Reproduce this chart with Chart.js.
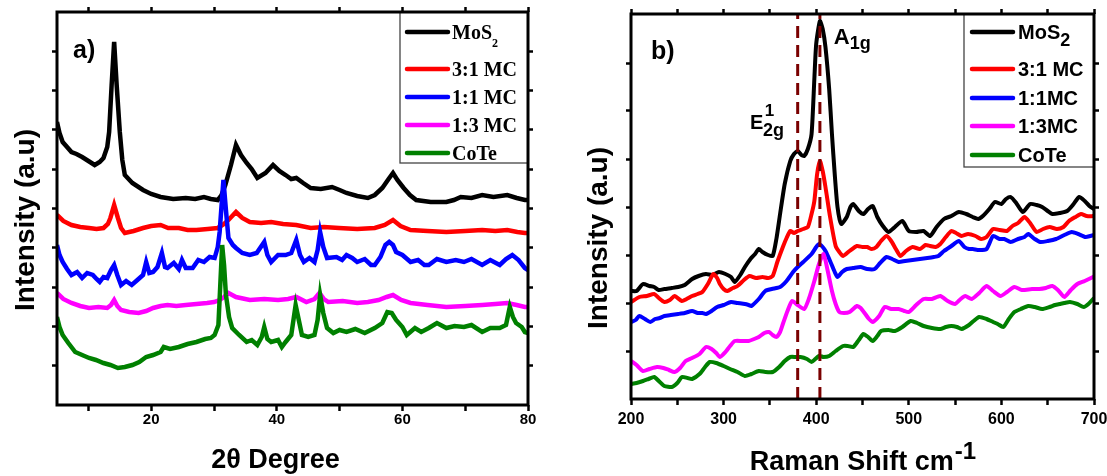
<!DOCTYPE html>
<html>
<head>
<meta charset="utf-8">
<script src="https://cdn.jsdelivr.net/npm/chart.js@4.4.0/dist/chart.umd.min.js"></script>
<style>
  html, body { margin: 0; padding: 0; background: #fff; }
  #wrap { position: relative; width: 1107px; height: 476px; overflow: hidden; }
  #boxA { position: absolute; left: 0; top: 0; width: 560px; height: 476px; }
  #boxB { position: absolute; left: 560px; top: 0; width: 547px; height: 476px; }
</style>
</head>
<body>
<div id="wrap">
  <div id="boxA"><canvas id="xrdChart"></canvas></div>
  <div id="boxB"><canvas id="ramanChart"></canvas></div>
</div>
<script>
// Series names and colours ('_' marks a subscript)
const xrdLabels = ['MoS_2', '3:1 MC', '1:1 MC', '1:3 MC', 'CoTe'];
const ramanLabels = ['MoS_2', '3:1 MC', '1:1MC', '1:3MC', 'CoTe'];
const seriesColors = ['#000000', '#ff0000', '#0000ff', '#ff00ff', '#008000'];

// Axis ticks
const xrdTicks = [10, 20, 30, 40, 50, 60, 70, 80];
const xrdTickLabels = [20, 40, 60, 80];
const xrdYTicks = [39.3, 78.6, 117.9, 157.2, 196.5, 235.8, 275.1, 314.4, 353.7];
const ramanTicks = [200, 250, 300, 350, 400, 450, 500, 550, 600, 650, 700];
const ramanTickLabels = [200, 300, 400, 500, 600, 700];
const ramanYTicks = [48, 96, 144, 192, 240, 288, 336];

// Raman modes marked with dashed lines (cm-1)
const ramanModes = [380, 404];

// a) XRD: [2theta, intensity (a.u., stacked)]
const xrdMoS2 = [[5.0,283],[5.4,272],[5.9,263],[6.6,258],[7.3,253],[8.1,251],[9.0,248],[10.0,244],[11.0,240],[11.8,243],[12.4,247],[13.0,258],[13.3,273],[13.7,320],[14.1,363],[14.5,320],[15.0,273],[15.4,245],[15.8,230],[17.0,222],[18.7,215],[20.0,211],[21.5,208],[23.5,206],[25.5,207],[27.0,206],[28.4,208],[29.5,206],[30.6,205],[31.2,210],[31.8,220],[32.7,240],[33.5,260],[34.3,250],[35.2,242],[36.0,236],[36.9,227],[38.2,232],[39.4,240],[40.4,234],[41.4,230],[42.3,226],[43.1,227],[44.2,222],[45.4,217],[47.0,216],[48.8,218],[50.0,215],[51.1,212],[52.8,209],[54.5,207],[55.6,210],[56.8,217],[57.8,226],[58.5,232],[59.2,225],[60.2,217],[61.2,210],[62.2,205],[64.5,203],[67.0,203],[68.2,205],[69.3,208],[71.0,207],[72.7,210],[74.5,208],[76.7,210],[78.2,207],[79.5,205],[80.0,205]];
const xrd31 = [[5.0,190],[6.0,184],[7.3,180],[8.7,178],[10.1,177],[11.3,176],[12.4,177],[13.1,181],[13.5,187],[14.1,200],[14.7,187],[15.2,177],[15.8,172],[17.2,174],[18.7,177],[20.0,179],[21.5,180],[22.7,177],[24.4,177],[25.8,175],[27.2,175],[29.0,176],[30.6,177],[31.6,181],[32.3,185],[33.5,193],[34.5,187],[35.7,183],[37.5,182],[39.1,183],[41.0,181],[43.1,180],[45.4,177],[47.5,178],[49.9,177],[52.8,176],[55.6,177],[57.2,180],[58.5,185],[59.7,179],[61.3,175],[64.0,174],[67.0,173],[70.0,174],[72.7,175],[74.8,174],[76.7,175],[78.3,173],[79.5,172],[80.0,172]];
const xrd11 = [[5.0,160],[5.4,150],[5.9,143],[6.6,136],[7.3,130],[8.2,133],[9.0,127],[9.8,132],[10.7,130],[11.3,126],[11.8,123],[12.4,128],[13.0,127],[13.6,135],[14.1,140],[14.6,130],[15.2,120],[16.0,124],[16.9,120],[17.8,125],[18.7,130],[19.2,143],[19.7,132],[20.3,133],[21.0,138],[21.7,152],[22.2,138],[22.6,137],[23.6,142],[24.4,136],[24.9,145],[25.5,137],[26.6,137],[27.5,145],[28.4,143],[29.3,148],[30.1,147],[30.6,158],[30.9,173],[31.5,225],[31.9,195],[32.3,167],[33.0,160],[33.5,157],[34.5,152],[35.7,150],[36.8,152],[38.0,163],[38.5,150],[39.1,143],[40.2,150],[41.4,150],[42.3,152],[43.1,165],[43.7,150],[44.3,143],[45.2,147],[46.0,143],[46.5,155],[46.9,173],[47.4,158],[48.0,147],[49.5,148],[50.4,145],[51.1,150],[52.0,147],[52.8,143],[54.0,146],[55.0,140],[55.6,140],[56.5,148],[57.3,160],[57.9,163],[58.5,160],[59.0,153],[60.0,150],[61.3,143],[62.5,145],[63.5,140],[64.2,140],[65.5,146],[67.0,143],[68.5,145],[69.8,143],[71.0,146],[72.7,140],[74.0,145],[75.5,140],[76.5,146],[77.5,150],[78.5,145],[79.5,137],[80.0,135]];
const xrd13 = [[5.0,112],[6.0,106],[7.3,102],[8.7,99],[10.1,97],[11.6,98],[13.0,97],[13.6,100],[14.1,105],[14.6,99],[15.2,95],[16.5,93],[18.0,92],[19.2,94],[20.3,97],[21.5,99],[22.6,100],[24.0,99],[25.5,100],[27.2,101],[28.9,102],[30.0,103],[30.9,105],[31.6,108],[32.3,112],[33.5,108],[35.7,105],[38.0,106],[40.2,105],[41.8,106],[43.1,108],[44.7,103],[46.0,106],[46.8,112],[47.5,106],[48.2,103],[50.5,104],[52.8,102],[54.5,103],[56.2,105],[57.5,108],[58.5,110],[59.8,105],[61.3,102],[64.0,100],[67.0,98],[70.0,99],[72.7,100],[74.8,101],[76.7,102],[78.2,100],[79.5,98],[80.0,98]];
const xrdCoTe = [[5.0,88],[5.4,78],[5.9,70],[6.8,62],[7.9,53],[9.0,50],[10.1,47],[11.2,45],[12.4,42],[13.5,40],[14.7,37],[15.8,38],[17.0,40],[18.1,43],[19.2,48],[20.3,50],[21.5,53],[22.0,58],[23.0,56],[24.4,58],[25.8,61],[27.2,63],[28.6,66],[29.5,67],[30.1,70],[30.7,80],[31.0,120],[31.3,160],[31.6,140],[31.9,110],[32.4,88],[32.9,77],[34.0,70],[35.2,63],[36.0,65],[36.9,60],[37.6,68],[38.0,78],[38.5,66],[39.1,63],[40.2,65],[40.8,58],[41.4,63],[42.3,70],[43.0,100],[43.5,85],[44.0,70],[45.0,68],[46.0,70],[46.5,85],[46.9,110],[47.4,92],[48.0,77],[49.0,72],[50.0,75],[51.1,73],[52.5,76],[54.0,72],[55.6,77],[56.8,82],[57.6,93],[58.3,92],[59.0,85],[60.0,78],[60.7,70],[62.0,77],[63.0,73],[64.2,77],[65.5,82],[67.0,77],[68.3,79],[69.8,78],[71.0,80],[72.7,73],[74.0,77],[75.5,77],[76.5,80],[77.1,98],[77.6,88],[78.1,82],[79.0,78],[79.5,73],[80.0,72]];

// b) Raman: [shift cm-1, intensity (a.u., stacked)]
const ramanMoS2 = [[200,108],[206,108],[213,115],[220,113],[225,112],[230,109],[236,110],[244,111],[251,112],[258,114],[266,120],[273,123],[281,125],[288,124],[295,127],[302,125],[308,122],[312,117],[318,124],[323,132],[329,140],[334,145],[338,150],[342,147],[348,144],[353,143],[357,160],[361,185],[366,215],[372,238],[376,245],[380,248],[384,244],[387,243],[391,250],[395,265],[398,320],[400,355],[404,378],[407,370],[410,352],[414,310],[417,265],[420,225],[423,192],[427,175],[433,182],[437,192],[440,195],[446,188],[451,185],[456,190],[461,193],[466,182],[472,173],[478,167],[485,172],[493,178],[500,168],[508,167],[516,168],[523,163],[530,172],[538,180],[546,183],[554,187],[562,185],[569,182],[575,180],[580,183],[587,190],[593,197],[600,195],[605,200],[610,202],[616,196],[623,187],[631,195],[638,194],[644,192],[650,188],[655,185],[663,186],[671,188],[678,195],[684,202],[690,198],[695,193],[700,190]];
const raman31 = [[200,97],[209,102],[217,103],[225,105],[230,101],[236,97],[242,99],[247,103],[255,98],[260,100],[266,103],[272,105],[277,107],[283,115],[289,125],[293,121],[296,115],[300,110],[304,108],[310,111],[315,113],[322,119],[328,123],[335,121],[342,122],[348,121],[353,123],[358,137],[364,152],[368,161],[372,168],[376,166],[380,168],[386,170],[391,172],[395,185],[398,198],[401,225],[404,238],[407,228],[410,212],[415,182],[421,153],[425,147],[429,143],[436,148],[444,153],[450,152],[455,152],[460,150],[465,152],[470,158],[476,163],[481,158],[486,150],[491,143],[497,148],[504,152],[512,150],[518,154],[523,153],[529,152],[534,155],[540,162],[546,168],[551,166],[557,163],[564,165],[572,163],[578,160],[584,162],[591,170],[598,169],[606,168],[612,173],[618,176],[625,182],[631,176],[638,167],[645,170],[652,172],[660,170],[667,172],[673,178],[680,182],[686,185],[692,183],[699,183],[700,184]];
const raman11 = [[200,77],[205,79],[209,83],[215,80],[221,77],[226,80],[231,81],[236,83],[243,84],[251,85],[258,86],[266,88],[272,86],[277,86],[281,85],[287,88],[293,92],[300,94],[308,97],[315,96],[323,95],[327,94],[330,93],[338,100],[345,108],[352,110],[361,112],[368,118],[375,127],[380,132],[386,137],[395,145],[400,152],[403,155],[407,152],[410,148],[415,138],[420,127],[423,122],[428,127],[433,130],[440,131],[448,132],[455,130],[463,130],[469,136],[476,142],[482,140],[489,137],[496,138],[504,139],[512,140],[520,141],[527,142],[532,143],[538,148],[546,153],[554,158],[560,152],[565,150],[569,150],[576,149],[584,150],[591,163],[598,160],[603,160],[610,157],[618,160],[625,162],[629,165],[636,160],[642,157],[650,158],[659,160],[668,164],[676,167],[683,165],[691,162],[696,163],[700,164]];
const raman13 = [[200,38],[206,34],[213,28],[220,30],[228,32],[235,31],[241,29],[247,27],[253,31],[259,38],[266,41],[274,45],[281,52],[287,50],[292,46],[296,42],[302,47],[307,53],[312,58],[320,58],[327,58],[333,60],[338,62],[344,66],[349,67],[353,64],[357,62],[361,67],[364,75],[369,88],[374,98],[380,94],[387,90],[392,100],[398,118],[403,135],[408,145],[412,130],[417,108],[421,95],[425,87],[430,86],[436,87],[444,93],[448,91],[453,85],[457,80],[461,77],[468,83],[474,92],[481,90],[489,90],[495,88],[500,87],[508,94],[516,100],[525,100],[534,103],[542,98],[550,95],[556,100],[561,103],[568,100],[576,106],[584,113],[591,108],[599,103],[606,107],[614,112],[622,109],[633,110],[641,110],[648,111],[655,113],[661,109],[668,102],[675,109],[682,115],[690,118],[699,122],[700,123]];
const ramanCoTe = [[200,15],[206,16],[213,18],[219,20],[225,22],[230,18],[236,13],[244,12],[250,16],[255,22],[261,21],[266,20],[274,25],[280,32],[285,37],[292,36],[300,33],[307,30],[315,27],[323,23],[330,25],[338,28],[345,27],[353,27],[360,32],[366,38],[372,42],[378,42],[383,42],[390,40],[395,37],[399,40],[403,43],[408,42],[414,43],[421,48],[429,53],[434,53],[440,52],[446,59],[451,65],[456,62],[461,58],[466,63],[470,68],[478,69],[485,68],[493,72],[502,78],[509,76],[516,73],[525,71],[534,70],[540,72],[546,73],[552,72],[557,70],[565,74],[570,78],[576,82],[584,80],[591,77],[596,75],[602,72],[608,80],[614,87],[621,90],[629,93],[636,92],[644,90],[652,92],[658,94],[663,95],[668,96],[674,97],[682,95],[689,92],[694,95],[699,100],[700,101]];

const xrdSeries = [xrdMoS2, xrd31, xrd11, xrd13, xrdCoTe];
const ramanSeries = [ramanMoS2, raman31, raman11, raman13, ramanCoTe];

const SANS = "'Liberation Sans', Arial, sans-serif";
const SERIF = "'Liberation Serif', 'Times New Roman', serif";

// draw a run of text pieces (for sub/superscripts) starting at x
function drawParts(ctx, parts, x, y, align) {
  let total = 0;
  parts.forEach(p => { ctx.font = p.font; p.w = ctx.measureText(p.t).width; total += p.w; });
  let cx = align === 'center' ? x - total / 2 : x;
  parts.forEach(p => {
    ctx.font = p.font;
    ctx.fillText(p.t, cx + (p.dx || 0), y + (p.dy || 0));
    cx += p.w + (p.dx || 0);
  });
}

function labelParts(label, o) {
  const [base, sub] = label.split('_');
  const parts = [{ t: base, font: o.font }];
  if (sub) parts.push({ t: sub, font: o.subFont, dy: o.subDy });
  return parts;
}

// Frame, boxed legend, panel letter, axis titles and peak notes
const decor = {
  id: 'decor',
  afterDraw(chart, args, o) {
    const { ctx, chartArea: a } = chart;
    ctx.save();
    ctx.fillStyle = '#000';
    ctx.textBaseline = 'alphabetic';

    // peak notes, placed in data units
    (o.notes || []).forEach(n => {
      const px = chart.scales.x.getPixelForValue(n.x);
      const py = chart.scales.y.getPixelForValue(n.y);
      drawParts(ctx, n.parts, px, py, 'left');
    });

    // legend box
    const lg = o.legend;
    const lx = a.right - lg.width, ly = a.top;
    ctx.fillStyle = '#fff';
    ctx.fillRect(lx, ly, lg.width, lg.height);
    ctx.strokeStyle = '#444';
    ctx.lineWidth = 1.3;
    ctx.strokeRect(lx, ly, lg.width, lg.height);
    chart.data.datasets.filter(d => d.inLegend !== false).forEach((ds, i) => {
      const y = ly + lg.rows[i];
      ctx.strokeStyle = ds.borderColor;
      ctx.lineWidth = 4.5;
      ctx.lineCap = 'round';
      ctx.beginPath();
      ctx.moveTo(lx + lg.lineFrom, y);
      ctx.lineTo(lx + lg.lineTo, y);
      ctx.stroke();
      ctx.fillStyle = '#000';
      drawParts(ctx, labelParts(ds.label, lg), lx + lg.textAt, y + lg.baseShift, 'left');
    });

    // plot frame
    ctx.strokeStyle = '#000';
    ctx.lineWidth = 3;
    ctx.lineCap = 'butt';
    ctx.strokeRect(a.left, a.top, a.right - a.left, a.bottom - a.top);

    // panel letter
    ctx.fillStyle = '#000';
    ctx.font = 'bold 25px ' + SANS;
    ctx.fillText(o.panel.text, a.left + o.panel.dx, a.top + o.panel.dy);

    // x title
    drawParts(ctx, o.xTitle.parts, (a.left + a.right) / 2 + o.xTitle.dx, o.xTitle.y, 'center');

    // y title
    ctx.save();
    ctx.translate(o.yTitle.x, o.yTitle.y);
    ctx.rotate(-Math.PI / 2);
    ctx.textAlign = 'center';
    ctx.textBaseline = 'middle';
    ctx.font = 'bold 28px ' + SANS;
    ctx.fillText(o.yTitle.text, 0, 0);
    ctx.restore();

    ctx.restore();
  }
};

const tickGrid = { display: true, drawOnChartArea: false, drawTicks: true, tickLength: 6, tickWidth: 2.5, color: '#000' };

const makeChart = (id, cfg) => {
  const setTicks = list => s => { s.ticks = list.map(v => ({ value: v })); };
  return new Chart(document.getElementById(id), {
    type: 'line',
    data: { datasets: cfg.datasets },
    options: {
      responsive: true,
      maintainAspectRatio: false,
      animation: false,
      layout: { padding: cfg.padding },
      scales: {
        x: {
          type: 'linear', min: cfg.xMin, max: cfg.xMax,
          afterBuildTicks: setTicks(cfg.xTicks),
          afterFit: s => { s.height = cfg.bottomSpace; s.paddingLeft = 0; s.paddingRight = 0; },
          ticks: {
            autoSkip: false, maxRotation: 0, color: '#000', padding: cfg.tickPad,
            font: { family: SANS, weight: 'bold', size: cfg.tickSize },
            callback: v => (cfg.xTickLabels.includes(v) ? String(v) : '')
          },
          grid: tickGrid,
          border: { display: false }
        },
        x2: {
          type: 'linear', position: 'top', min: cfg.xMin, max: cfg.xMax,
          afterBuildTicks: setTicks(cfg.xTicks),
          afterFit: s => { s.height = 0; },
          ticks: { display: false },
          grid: { ...tickGrid, tickLength: 5 },
          border: { display: false }
        },
        y: {
          type: 'linear', min: 0, max: cfg.yMax,
          afterBuildTicks: setTicks(cfg.yTicks),
          afterFit: s => { s.width = cfg.leftSpace; },
          ticks: { display: false },
          grid: { ...tickGrid, tickLength: 5 },
          border: { display: false }
        },
        y2: {
          type: 'linear', position: 'right', min: 0, max: cfg.yMax,
          afterBuildTicks: setTicks(cfg.yTicks),
          afterFit: s => { s.width = 0; },
          ticks: { display: false },
          grid: { ...tickGrid, tickLength: 5 },
          border: { display: false }
        }
      },
      plugins: {
        legend: { display: false },
        tooltip: { enabled: false },
        decor: cfg.decor
      }
    },
    plugins: [decor]
  });
};

const toPoints = pts => pts.map(([x, y]) => ({ x, y }));

const buildSets = (series, labels, width, tension) =>
  series.map((pts, i) => ({
    label: labels[i],
    data: toPoints(pts),
    borderColor: seriesColors[i],
    borderWidth: width,
    pointRadius: 0,
    tension: tension,
    order: 10 - i
  }));

// a) XRD
makeChart('xrdChart', {
  datasets: buildSets(xrdSeries, xrdLabels, 4.5, 0),
  padding: { top: 12, right: 32, left: 0, bottom: 0 },
  leftSpace: 57, bottomSpace: 71,
  xMin: 5, xMax: 80, yMax: 393,
  xTicks: xrdTicks, xTickLabels: xrdTickLabels, yTicks: xrdYTicks,
  tickSize: 15, tickPad: 0,
  decor: {
    legend: {
      width: 128, height: 151, rows: [20, 57, 85, 113, 141],
      lineFrom: 7, lineTo: 48, textAt: 52, baseShift: 7,
      font: 'bold 20px ' + SERIF, subFont: 'bold 12px ' + SERIF, subDy: 8
    },
    panel: { text: 'a)', dx: 16, dy: 46 },
    xTitle: { parts: [{ t: '2\u03b8 Degree', font: 'bold 27px ' + SANS }], dx: -17, y: 468 },
    yTitle: { text: 'Intensity (a.u)', x: 26, y: 220 }
  }
});

// b) Raman, with dashed lines at the E2g and A1g modes
const modeLines = ramanModes.map(m => ({
  label: 'mode',
  inLegend: false,
  data: [{ x: m, y: 0 }, { x: m, y: 385 }],
  borderColor: '#7a0000',
  borderWidth: 3,
  borderDash: [12, 7],
  pointRadius: 0,
  order: -1
}));

makeChart('ramanChart', {
  datasets: buildSets(ramanSeries, ramanLabels, 4, 0.2).concat(modeLines),
  padding: { top: 14, right: 13, left: 0, bottom: 0 },
  leftSpace: 71, bottomSpace: 77,
  xMin: 200, xMax: 700, yMax: 385,
  xTicks: ramanTicks, xTickLabels: ramanTickLabels, yTicks: ramanYTicks,
  tickSize: 16, tickPad: 5,
  decor: {
    legend: {
      width: 130, height: 153, rows: [18, 55, 84, 112, 141],
      lineFrom: 8, lineTo: 49, textAt: 54, baseShift: 7,
      font: 'bold 20px ' + SANS, subFont: 'bold 18px ' + SANS, subDy: 7
    },
    panel: { text: 'b)', dx: 20, dy: 45 },
    xTitle: {
      parts: [
        { t: 'Raman Shift cm', font: 'bold 27px ' + SANS },
        { t: '-1', font: 'bold 24px ' + SANS, dy: -11, dx: 1 }
      ],
      dx: 0, y: 470
    },
    yTitle: { text: 'Intensity (a.u)', x: 39, y: 238 },
    notes: [
      { x: 328.5, y: 270, parts: [{ t: 'E', font: 'bold 20px ' + SANS }] },
      { x: 344.5, y: 283, parts: [{ t: '1', font: 'bold 17px ' + SANS }] },
      { x: 342.5, y: 263, parts: [{ t: '2g', font: 'bold 18px ' + SANS }] },
      { x: 419, y: 355, parts: [
        { t: 'A', font: 'bold 22px ' + SANS },
        { t: '1g', font: 'bold 18px ' + SANS, dy: 5 }
      ] }
    ]
  }
});
</script>
</body>
</html>
